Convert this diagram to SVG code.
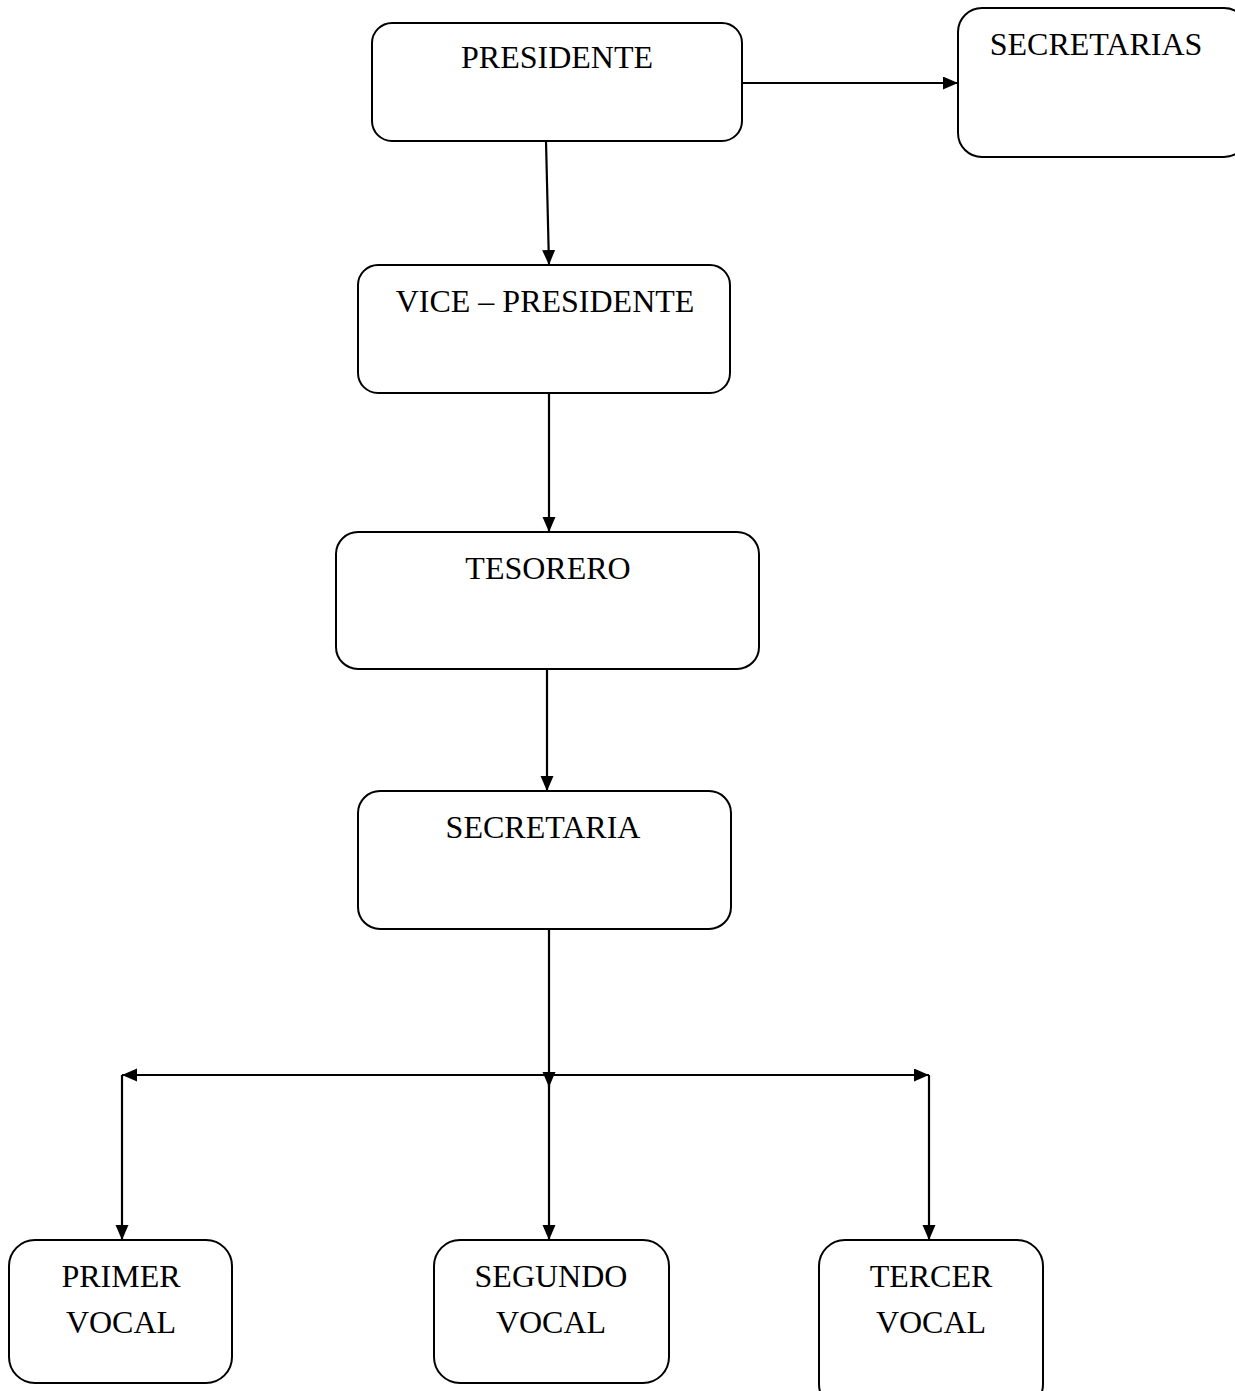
<svg xmlns="http://www.w3.org/2000/svg" width="1235" height="1391" viewBox="0 0 1235 1391">
<style>
.box{fill:#fff;stroke:#000;stroke-width:2}
.lbl{font-family:"Liberation Serif","DejaVu Serif",serif;font-size:32px;fill:#000;text-anchor:middle}
.con{stroke:#000;stroke-width:2.2;fill:none}
</style>
<defs>
<marker id="ah" markerUnits="userSpaceOnUse" markerWidth="16" markerHeight="14" refX="15" refY="6.5" orient="auto-start-reverse">
<path d="M0,0 L15,6.5 L0,13 Z" fill="#000"/>
</marker>
</defs>
<rect width="1235" height="1391" fill="#fff"/>
<g id="connectors">
<line class="con" x1="743" y1="83" x2="958" y2="83" marker-end="url(#ah)"/>
<line class="con" x1="546" y1="141" x2="549" y2="265" marker-end="url(#ah)"/>
<line class="con" x1="549" y1="393" x2="549" y2="532" marker-end="url(#ah)"/>
<line class="con" x1="547" y1="669" x2="547" y2="791" marker-end="url(#ah)"/>
<line class="con" x1="549" y1="929" x2="549" y2="1087" marker-end="url(#ah)"/>
<line class="con" x1="122" y1="1075" x2="929" y2="1075" marker-start="url(#ah)" marker-end="url(#ah)"/>
<line class="con" x1="122" y1="1075" x2="122" y2="1240" marker-end="url(#ah)"/>
<line class="con" x1="549" y1="1075" x2="549" y2="1240" marker-end="url(#ah)"/>
<line class="con" x1="929" y1="1075" x2="929" y2="1240" marker-end="url(#ah)"/>
</g>
<g id="presidente">
<rect class="box" x="372" y="23" width="370" height="118" rx="20"/>
<text class="lbl" x="557" y="68">PRESIDENTE</text>
</g>
<g id="secretarias">
<rect class="box" x="958" y="8" width="290" height="149" rx="24"/>
<text class="lbl" x="1096" y="55">SECRETARIAS</text>
</g>
<g id="vicepresidente">
<rect class="box" x="358" y="265" width="372" height="128" rx="20"/>
<text class="lbl" x="545" y="312">VICE – PRESIDENTE</text>
</g>
<g id="tesorero">
<rect class="box" x="336" y="532" width="423" height="137" rx="22"/>
<text class="lbl" x="548" y="579">TESORERO</text>
</g>
<g id="secretaria">
<rect class="box" x="358" y="791" width="373" height="138" rx="22"/>
<text class="lbl" x="543" y="838">SECRETARIA</text>
</g>
<g id="primer-vocal">
<rect class="box" x="9" y="1240" width="223" height="143" rx="26"/>
<text class="lbl" x="121" y="1287">PRIMER</text>
<text class="lbl" x="121" y="1333">VOCAL</text>
</g>
<g id="segundo-vocal">
<rect class="box" x="434" y="1240" width="235" height="143" rx="26"/>
<text class="lbl" x="551" y="1287">SEGUNDO</text>
<text class="lbl" x="551" y="1333">VOCAL</text>
</g>
<g id="tercer-vocal">
<rect class="box" x="819" y="1240" width="224" height="170" rx="26"/>
<text class="lbl" x="931" y="1287">TERCER</text>
<text class="lbl" x="931" y="1333">VOCAL</text>
</g>
</svg>
